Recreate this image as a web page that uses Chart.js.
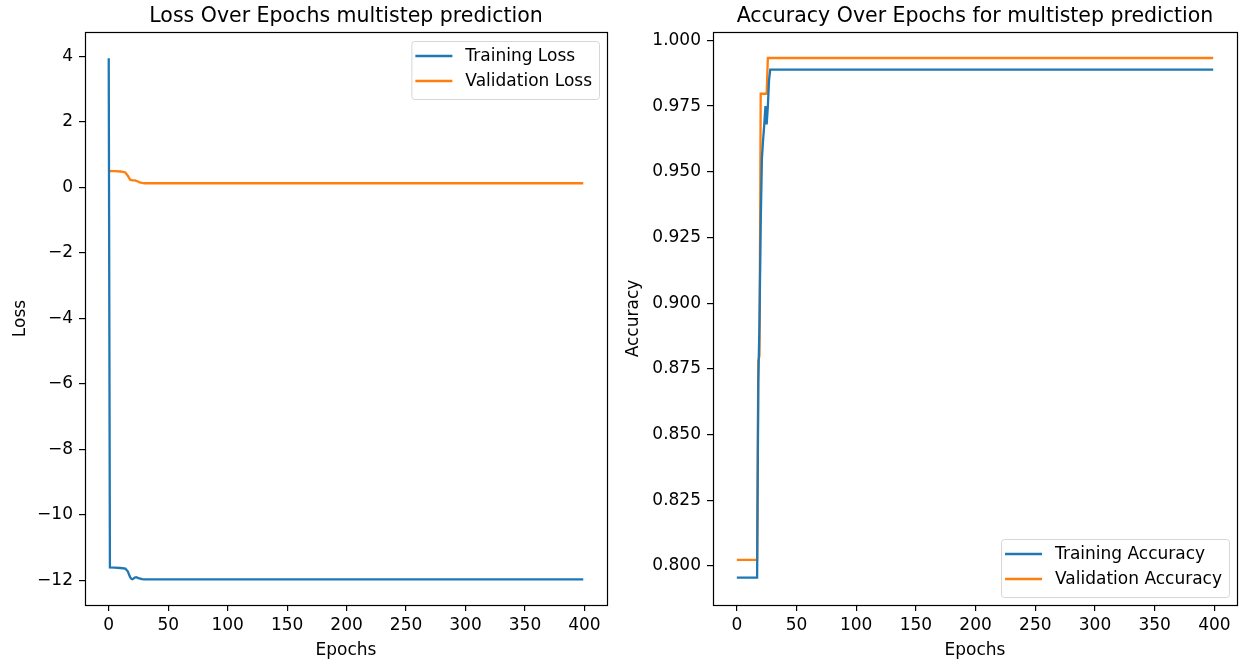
<!DOCTYPE html>
<html>
<head>
<meta charset="utf-8">
<script src="https://cdn.jsdelivr.net/npm/chart.js@4/dist/chart.umd.min.js"></script>
<style>
  html, body { margin: 0; padding: 0; background: #fff; }
  #wrap { position: relative; width: 1242px; height: 663px; }
  canvas { position: absolute; top: 0; }
</style>
</head>
<body>
<div id="wrap">
  <canvas id="lossChart" width="621" height="663" style="left:0"></canvas>
  <canvas id="accChart" width="621" height="663" style="left:621px"></canvas>
</div>
<script>
// breakpoints (epoch, value); lines are straight between them
const lossEpochs = [0, 1, 5, 10, 14, 16, 18, 19, 20, 22, 23, 25, 28, 30, 399];
const trainLoss = [3.95, -11.60, -11.61, -11.62, -11.64, -11.72, -11.90, -11.95, -11.96, -11.91, -11.90, -11.93, -11.96, -11.97, -11.97];
const valLossEpochs = [0, 1, 5, 10, 14, 16, 18, 20, 22, 24, 26, 28, 30, 399];
const valLoss = [0.55, 0.50, 0.50, 0.49, 0.46, 0.36, 0.24, 0.22, 0.22, 0.19, 0.16, 0.14, 0.13, 0.13];

const accEpochs = [0, 17, 18, 19, 20, 21, 22, 23, 24, 25, 26, 27, 28, 399];
const trainAcc = [0.7955, 0.7955, 0.870, 0.893, 0.930, 0.955, 0.962, 0.968, 0.975, 0.968, 0.975, 0.985, 0.9889, 0.9889];
const valAccEpochs = [0, 17, 18, 19, 20, 25, 26, 399];
const valAcc = [0.8023, 0.8023, 0.878, 0.880, 0.9797, 0.9797, 0.9933, 0.9933];

const epochTicks = [0, 50, 100, 150, 200, 250, 300, 350, 400];
const lossTicks = [-12, -10, -8, -6, -4, -2, 0, 2, 4];
const accTicks = [0.800, 0.825, 0.850, 0.875, 0.900, 0.925, 0.950, 0.975, 1.000];

const FONT = '"DejaVu Sans", sans-serif';
const FS = 17;
const BLUE = '#1f77b4';
const ORANGE = '#ff7f0e';

function pairs(xs, ys) {
    return xs.map((x, i) => ({ x: x, y: ys[i] }));
}

function fmtMinus(v) {
    return v < 0 ? '\u2212' + Math.abs(v) : String(v);
}

// box around the axes + title above it
const frame = {
    id: 'frame',
    afterDatasetsDraw(chart, args, opts) {
        const { ctx, chartArea: a } = chart;
        ctx.save();
        ctx.strokeStyle = '#000';
        ctx.lineWidth = 1.2;
        ctx.strokeRect(Math.round(a.left) + 0.5, Math.round(a.top) + 0.5,
            Math.round(a.right - a.left), Math.round(a.bottom - a.top));
        ctx.fillStyle = '#000';
        ctx.font = '20.5px ' + FONT;
        ctx.textAlign = 'center';
        ctx.textBaseline = 'alphabetic';
        ctx.fillText(opts.text, (a.left + a.right) / 2, a.top - 10);
        ctx.restore();
    }
};

// matplotlib-like legend inside the axes
const boxLegend = {
    id: 'boxLegend',
    afterDraw(chart, args, opts) {
        const { ctx, chartArea: a } = chart;
        const sets = chart.data.datasets;
        ctx.save();
        ctx.font = FS + 'px ' + FONT;
        const textW = Math.max(...sets.map(d => ctx.measureText(d.label).width));
        const padL = 4, handle = 37, gap = 13, padR = 7, h = 58;
        const w = padL + handle + gap + textW + padR;
        const x = a.right - 8 - w;
        const y = opts.corner === 'lower' ? a.bottom - 8 - h : a.top + 9;
        ctx.beginPath();
        ctx.roundRect(x + 0.5, y + 0.5, w, h, 3);
        ctx.fillStyle = 'rgba(255,255,255,0.8)';
        ctx.fill();
        ctx.strokeStyle = '#d6d6d6';
        ctx.lineWidth = 1;
        ctx.stroke();
        sets.forEach((d, i) => {
            const cy = y + 15 + i * 25;
            ctx.strokeStyle = d.borderColor;
            ctx.lineWidth = 2.3;
            ctx.beginPath();
            ctx.moveTo(x + padL, cy);
            ctx.lineTo(x + padL + handle, cy);
            ctx.stroke();
            ctx.fillStyle = '#000';
            ctx.textAlign = 'left';
            ctx.textBaseline = 'middle';
            ctx.fillText(d.label, x + padL + handle + gap, cy + 1);
        });
        ctx.restore();
    }
};

function makeChart(id, cfg) {
    const ctx = document.getElementById(id).getContext('2d');
    return new Chart(ctx, {
        type: 'line',
        data: {
            datasets: [
                {
                    label: cfg.labels[0],
                    data: cfg.train,
                    borderColor: BLUE,
                    borderWidth: 2.3,
                    pointRadius: 0,
                    tension: 0,
                },
                {
                    label: cfg.labels[1],
                    data: cfg.val,
                    borderColor: ORANGE,
                    borderWidth: 2.3,
                    pointRadius: 0,
                    tension: 0,
                }
            ]
        },
        options: {
            responsive: false,
            animation: false,
            devicePixelRatio: 1,
            layout: { padding: { top: 32, right: cfg.padRight, left: 0, bottom: 0 } },
            plugins: {
                legend: { display: false },
                tooltip: { enabled: false },
                frame: { text: cfg.title },
                boxLegend: { corner: cfg.legendCorner },
            },
            scales: {
                x: {
                    type: 'linear',
                    min: -19.95,
                    max: 418.95,
                    afterBuildTicks: s => { s.ticks = epochTicks.map(v => ({ value: v })); },
                    afterFit: s => { s.height = 58; },
                    grid: { drawOnChartArea: false, drawTicks: true, tickLength: 6, color: '#000', lineWidth: 1.2 },
                    border: { display: false },
                    ticks: { color: '#000', font: { family: FONT, size: FS }, padding: 4, maxRotation: 0 },
                    title: { display: true, text: 'Epochs', color: '#000', font: { family: FONT, size: FS }, padding: { top: 2, bottom: 2 } },
                },
                y: {
                    type: 'linear',
                    min: cfg.yMin,
                    max: cfg.yMax,
                    afterBuildTicks: s => { s.ticks = cfg.yTicks.map(v => ({ value: v })); },
                    afterFit: s => { s.width = cfg.yWidth; },
                    grid: { drawOnChartArea: false, drawTicks: true, tickLength: 6, color: '#000', lineWidth: 1.2 },
                    border: { display: false },
                    ticks: { color: '#000', font: { family: FONT, size: FS }, padding: 6, callback: cfg.fmt },
                    title: { display: true, text: cfg.yTitle, color: '#000', font: { family: FONT, size: FS }, padding: { top: cfg.yTitlePad, bottom: 0 } },
                }
            }
        },
        plugins: [frame, boxLegend]
    });
}

makeChart('lossChart', {
    labels: ['Training Loss', 'Validation Loss'],
    train: pairs(lossEpochs, trainLoss),
    val: pairs(valLossEpochs, valLoss),
    title: 'Loss Over Epochs multistep prediction',
    yTitle: 'Loss',
    yMin: -12.75, yMax: 4.75,
    yTicks: lossTicks,
    yWidth: 85,
    yTitlePad: 10,
    padRight: 14,
    legendCorner: 'upper',
    fmt: v => fmtMinus(v),
});

makeChart('accChart', {
    labels: ['Training Accuracy', 'Validation Accuracy'],
    train: pairs(accEpochs, trainAcc),
    val: pairs(valAccEpochs, valAcc),
    title: 'Accuracy Over Epochs for multistep prediction',
    yTitle: 'Accuracy',
    yMin: 0.7851, yMax: 1.0032,
    yTicks: accTicks,
    yWidth: 92,
    yTitlePad: 2,
    padRight: 5,
    legendCorner: 'lower',
    fmt: v => v.toFixed(3),
});
</script>
</body>
</html>
